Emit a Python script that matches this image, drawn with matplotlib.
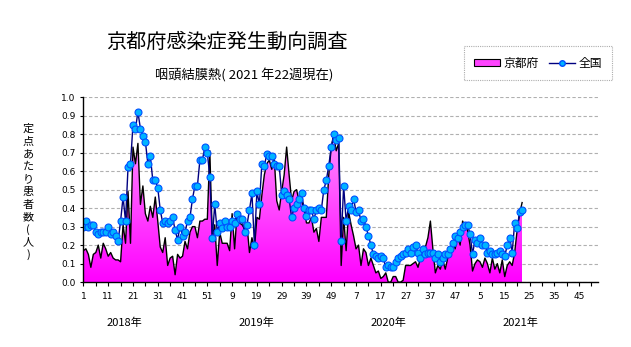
import matplotlib
matplotlib.use("Agg")
import matplotlib.pyplot as plt
import numpy as np
from matplotlib.colors import LinearSegmentedColormap
from matplotlib.patches import Patch
from matplotlib.lines import Line2D

plt.rcParams["font.family"] = ["Noto Sans CJK JP", "DejaVu Sans"]

# 定点あたり患者数, 京都府 (pink area), weekly
kyoto_2018 = [0.17, 0.18, 0.15, 0.08, 0.15, 0.16, 0.20, 0.13, 0.21, 0.18,
              0.14, 0.16, 0.13, 0.12, 0.12, 0.11, 0.31, 0.21, 0.49, 0.21,
              0.73, 0.64, 0.75, 0.42, 0.52, 0.37, 0.33, 0.41, 0.35, 0.46,
              0.33, 0.19, 0.16, 0.24, 0.09, 0.13, 0.14, 0.04, 0.15, 0.13,
              0.14, 0.22, 0.18, 0.27, 0.30, 0.30, 0.24, 0.33, 0.33, 0.34,
              0.34, 0.71]
kyoto_2019 = [0.24, 0.31, 0.09, 0.27, 0.21, 0.21, 0.21, 0.17, 0.37, 0.18,
              0.37, 0.32, 0.31, 0.29, 0.31, 0.16, 0.24, 0.18, 0.35, 0.34,
              0.47, 0.58, 0.64, 0.66, 0.61, 0.67, 0.44, 0.39, 0.49, 0.58,
              0.73, 0.58, 0.44, 0.49, 0.50, 0.44, 0.44, 0.40, 0.32, 0.32,
              0.35, 0.27, 0.29, 0.22, 0.35, 0.35, 0.35, 0.58, 0.73, 0.79,
              0.71, 0.75]
kyoto_2020 = [0.09, 0.35, 0.17, 0.38, 0.31, 0.25, 0.18, 0.20, 0.09, 0.18,
              0.16, 0.09, 0.13, 0.09, 0.05, 0.06, 0.02, 0.03, 0.05, 0.00,
              0.00, 0.03, 0.03, 0.00, 0.00, 0.01, 0.09, 0.09, 0.09, 0.10,
              0.11, 0.08, 0.13, 0.18, 0.19, 0.24, 0.33, 0.18, 0.05, 0.09,
              0.07, 0.12, 0.07, 0.13, 0.16, 0.22, 0.18, 0.25, 0.20, 0.33,
              0.30, 0.28]
kyoto_2021 = [0.20, 0.06, 0.10, 0.12, 0.11, 0.08, 0.13, 0.10, 0.05, 0.13,
              0.07, 0.10, 0.05, 0.12, 0.03, 0.09, 0.11, 0.09, 0.16, 0.28,
              0.37, 0.43]

# 全国 (blue dots)
zenkoku_2018 = [0.30, 0.33, 0.30, 0.31, 0.31, 0.27, 0.26, 0.27, 0.27, 0.27,
                0.30, 0.26, 0.27, 0.25, 0.22, 0.33, 0.46, 0.33, 0.62, 0.64,
                0.85, 0.83, 0.92, 0.83, 0.79, 0.76, 0.64, 0.68, 0.55, 0.55,
                0.51, 0.39, 0.32, 0.33, 0.32, 0.33, 0.35, 0.28, 0.23, 0.30,
                0.25, 0.27, 0.33, 0.35, 0.45, 0.52, 0.52, 0.66, 0.66, 0.73,
                0.70, 0.57]
zenkoku_2019 = [0.24, 0.42, 0.27, 0.32, 0.29, 0.33, 0.30, 0.30, 0.33, 0.32,
                0.37, 0.34, 0.34, 0.27, 0.31, 0.39, 0.48, 0.20, 0.49, 0.42,
                0.64, 0.63, 0.69, 0.68, 0.68, 0.64, 0.63, 0.63, 0.47, 0.49,
                0.47, 0.45, 0.35, 0.40, 0.42, 0.45, 0.48, 0.40, 0.36, 0.39,
                0.39, 0.34, 0.39, 0.40, 0.39, 0.50, 0.55, 0.63, 0.73, 0.80,
                0.77, 0.78]
zenkoku_2020 = [0.22, 0.52, 0.33, 0.41, 0.39, 0.45, 0.38, 0.39, 0.33, 0.34,
                0.30, 0.25, 0.20, 0.15, 0.14, 0.13, 0.14, 0.13, 0.08, 0.09,
                0.08, 0.08, 0.11, 0.13, 0.14, 0.15, 0.16, 0.18, 0.16, 0.19,
                0.20, 0.16, 0.13, 0.18, 0.15, 0.16, 0.16, 0.16, 0.13, 0.15,
                0.11, 0.13, 0.15, 0.15, 0.18, 0.21, 0.25, 0.24, 0.27, 0.30,
                0.31, 0.31]
zenkoku_2021 = [0.26, 0.15, 0.23, 0.21, 0.24, 0.20, 0.20, 0.16, 0.17, 0.15,
                0.15, 0.16, 0.17, 0.15, 0.14, 0.20, 0.24, 0.16, 0.32, 0.29,
                0.38, 0.39]

years = ["2018年", "2019年", "2020年", "2021年"]
weeks_per_year = 52
week_labels = ["1", "11", "21", "31", "41", "51", "9", "19", "29", "39", "49",
               "7", "17", "27", "37", "47", "5", "15", "25", "35", "45"]

kyoto = np.array(kyoto_2018 + kyoto_2019 + kyoto_2020 + kyoto_2021)
zenkoku = np.array(zenkoku_2018 + zenkoku_2019 + zenkoku_2020 + zenkoku_2021)
x = np.arange(len(kyoto))
n_total = weeks_per_year * len(years)

W, H = 631, 347
fig = plt.figure(figsize=(W / 100, H / 100), dpi=100)
fig.patch.set_facecolor("white")
ax = fig.add_axes([0.131, 0.187, 0.817, 0.533])

# pink area with vertical gradient
poly = ax.fill_between(x, kyoto, 0, color="none", lw=0)
cmap = LinearSegmentedColormap.from_list("pk", ["#ff00ff", "#ffb0ff"])
grad = np.linspace(0, 1, 256).reshape(-1, 1)
im = ax.imshow(grad, cmap=cmap, aspect="auto", origin="lower",
               extent=[0, len(kyoto) - 1, 0, 1], zorder=2)
im.set_clip_path(poly.get_paths()[0], transform=ax.transData)
ax.plot(x, kyoto, color="black", lw=1.0, zorder=3)

ax.plot(x, zenkoku, color="#000080", lw=1.0, marker="o", ms=5,
        mfc="#00b4ff", mec="#0050ff", mew=0.8, zorder=4)

ax.set_xlim(-0.3, n_total - 0.3)
ax.set_ylim(0, 1.0)
ax.set_yticks(np.arange(0, 1.01, 0.1))
ax.set_yticklabels([f"{v:.1f}" for v in np.arange(0, 1.01, 0.1)], fontsize=6.5,
                   family="DejaVu Sans")
ax.set_xticks(np.arange(0, n_total, 10))
ax.set_xticklabels(week_labels, fontsize=6.5, family="DejaVu Sans")
ax.set_xticks(np.arange(0, n_total, 5), minor=True)
ax.tick_params(axis="x", which="both", length=3, width=0.8, pad=4)
ax.tick_params(axis="y", length=2, width=0.8, pad=3)
ax.yaxis.grid(True, color="#b0b0b0", ls=(0, (3, 2)), lw=0.8, zorder=0)
ax.set_axisbelow(True)
for s in ("top", "right"):
    ax.spines[s].set_visible(False)
for s in ("left", "bottom"):
    ax.spines[s].set_color("black")
    ax.spines[s].set_linewidth(1.0)
    ax.spines[s].set_zorder(5)

# year labels
for k, yr in enumerate(years):
    fig.text((124 + k * 132) / W, 1 - 323 / H, yr, fontsize=8,
             ha="center", va="center")

# vertical y label, one character per line
ylab = "定点あたり患者数(人)"
for k, ch in enumerate(ylab):
    fig.text(28 / W, 1 - (129 + k * 12.6) / H, ch, fontsize=8,
             ha="center", va="center")

fig.text(227 / W, 1 - 42 / H, "京都府感染症発生動向調査", fontsize=14.5,
         ha="center", va="center")
fig.text(244 / W, 1 - 76 / H, "咽頭結膜熱( 2021 年22週現在)", fontsize=9.5,
         ha="center", va="center")

handles = [Patch(facecolor="#ff44ff", edgecolor="black", lw=0.8),
           Line2D([], [], color="#000080", lw=1.0, marker="o", ms=4,
                  mfc="#00b4ff", mec="#0050ff")]
leg = fig.legend(handles, ["京都府", "全国"], loc="center",
                 bbox_to_anchor=(538 / W, 1 - 63 / H), ncol=2,
                 fontsize=8.5, frameon=True, fancybox=False,
                 handlelength=2.2, handleheight=0.6, columnspacing=0.8,
                 handletextpad=0.3, borderpad=0.9)
leg.get_frame().set_edgecolor("#999999")
leg.get_frame().set_linestyle((0, (1, 1)))
leg.get_frame().set_linewidth(0.8)

fig.savefig("out.png", dpi=100)
